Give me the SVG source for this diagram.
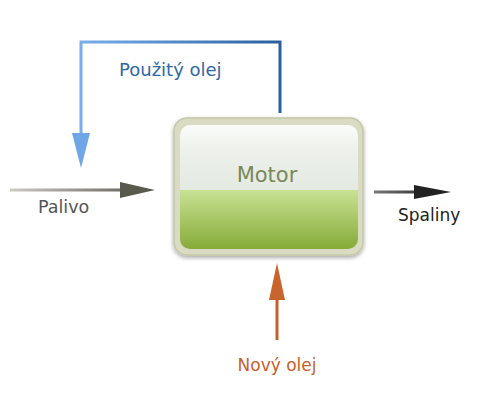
<svg xmlns="http://www.w3.org/2000/svg" width="500" height="400" viewBox="0 0 500 400">
<defs>
<style>
text{font-family:"DejaVu Sans","Open Sans",sans-serif;font-size:17px}
</style>
<linearGradient id="top" x1="0" y1="0" x2="0" y2="1"><stop offset="0" stop-color="#fbfcfa"/><stop offset="0.35" stop-color="#eef1ec"/><stop offset="1" stop-color="#e4e9e2"/></linearGradient>
<linearGradient id="bot" x1="0" y1="0" x2="0" y2="1"><stop offset="0" stop-color="#c8e294"/><stop offset="1" stop-color="#86ab38"/></linearGradient>
<linearGradient id="blue" gradientUnits="userSpaceOnUse" x1="81" y1="0" x2="280" y2="0"><stop offset="0" stop-color="#79aeea"/><stop offset="1" stop-color="#2a5f9e"/></linearGradient>
<linearGradient id="gray" gradientUnits="userSpaceOnUse" x1="10" y1="0" x2="155" y2="0"><stop offset="0" stop-color="#cdcac4"/><stop offset="1" stop-color="#55544a"/></linearGradient>
<linearGradient id="dark" gradientUnits="userSpaceOnUse" x1="374" y1="0" x2="451" y2="0"><stop offset="0" stop-color="#777"/><stop offset="1" stop-color="#111"/></linearGradient>
<filter id="sh" x="-10%" y="-10%" width="120%" height="130%"><feDropShadow dx="0" dy="2" stdDeviation="2" flood-color="#000" flood-opacity="0.35"/></filter>
</defs>
<g id="connectors">
<path d="M280 113 V42 H81 V135" fill="none" stroke="url(#blue)" stroke-width="3"/>
<polygon points="72,133 90,133 81,168" fill="#6fa6e6"/>
<path d="M10 190 H122" stroke="url(#gray)" stroke-width="3"/>
<polygon points="120,182 155,190 120,198" fill="#5a594e"/>
<path d="M374 192 H416" stroke="url(#dark)" stroke-width="3"/>
<polygon points="414,185 451,192 414,199" fill="#222"/>
<path d="M277 340 V298" stroke="#c4622c" stroke-width="3"/>
<polygon points="269,300 277,263 285,300" fill="#c8652e"/>
</g>
<g id="motor">
<rect x="174" y="118" width="189" height="137" rx="13" fill="#d9dcc2" stroke="#c4c8a6" stroke-width="1.5" filter="url(#sh)"/>
<path d="M180 135 a10 10 0 0 1 10 -10 H348 a10 10 0 0 1 10 10 V190 H180 Z" fill="url(#top)"/>
<path d="M180 190 H358 V239 a10 10 0 0 1 -10 10 H190 a10 10 0 0 1 -10 -10 Z" fill="url(#bot)"/>
<text x="267" y="182" text-anchor="middle" fill="#7a8858" style="font-size:21px">Motor</text>
</g>
<g id="labels">
<text x="119" y="76" fill="#2f68a6" style="font-size:18px">Použitý olej</text>
<text x="38" y="213" fill="#555" style="font-size:17.5px">Palivo</text>
<text x="398" y="221" fill="#222">Spaliny</text>
<text x="277" y="371" text-anchor="middle" fill="#c8602a">Nový olej</text>
</g>
</svg>
